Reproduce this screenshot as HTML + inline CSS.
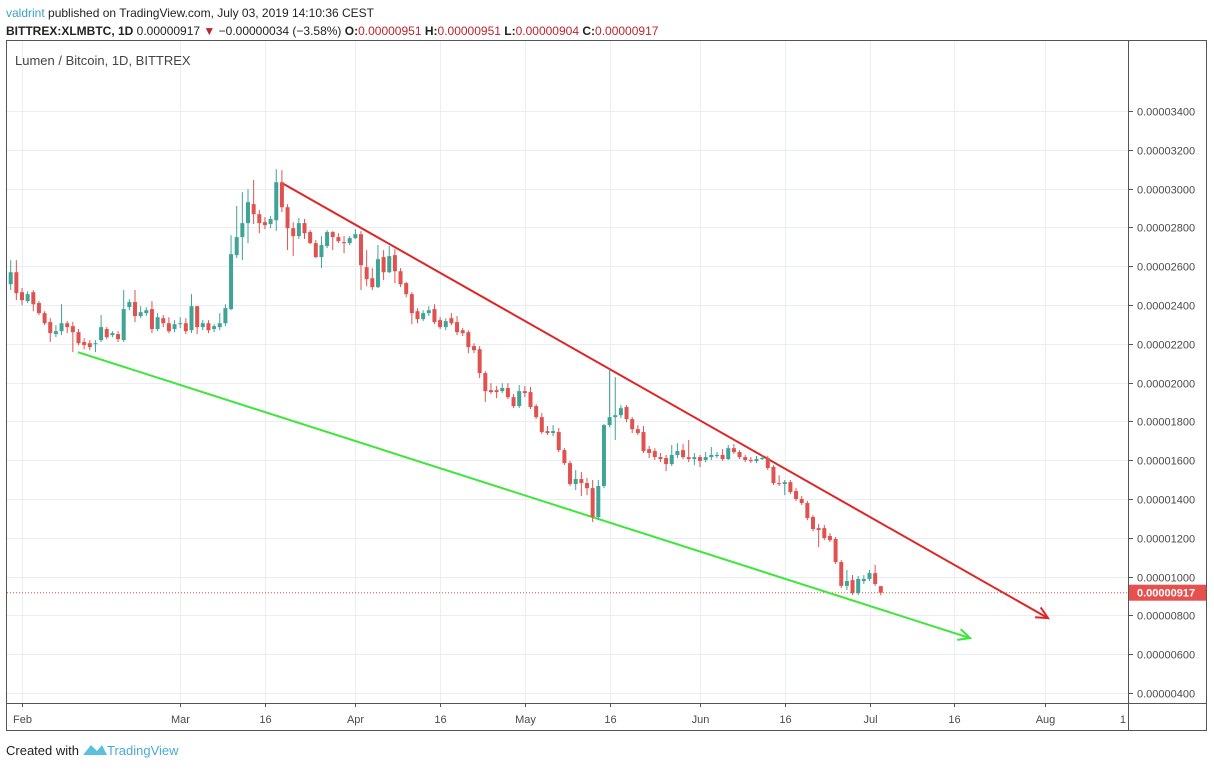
<!DOCTYPE html>
<html><head><meta charset="utf-8">
<style>
html,body{margin:0;padding:0;background:#fff;}
body{width:1214px;height:768px;overflow:hidden;font-family:"Liberation Sans",sans-serif;}
svg text{font-family:"Liberation Sans",sans-serif;}
</style></head>
<body>
<svg id="chart" width="1214" height="768" viewBox="0 0 1214 768" xmlns="http://www.w3.org/2000/svg">
  <g>
    <text x="6" y="17" font-size="12" fill="#222"><tspan fill="#3ba1c9">valdrint</tspan> published on TradingView.com, July 03, 2019 14:10:36 CEST</text>
    <text x="6" y="35" font-size="12" fill="#222"><tspan font-weight="bold">BITTREX:XLMBTC, 1D</tspan> 0.00000917 <tspan fill="#c0232b">▼</tspan> −0.00000034 (−3.58%) <tspan font-weight="bold">O:</tspan><tspan fill="#c0232b">0.00000951</tspan> <tspan font-weight="bold">H:</tspan><tspan fill="#c0232b">0.00000951</tspan> <tspan font-weight="bold">L:</tspan><tspan fill="#c0232b">0.00000904</tspan> <tspan font-weight="bold">C:</tspan><tspan fill="#c0232b">0.00000917</tspan></text>
  </g>
  <g id="grid"></g>
  <g id="lines"></g>
  <g id="candles"></g>
  <g id="axes"></g>
  <rect x="6.5" y="40.5" width="1200" height="690" fill="none" stroke="#555" stroke-width="1"/>
  <line x1="1128.5" y1="40" x2="1128.5" y2="731" stroke="#555"/>
  <line x1="6" y1="703.5" x2="1207" y2="703.5" stroke="#555"/>
  <text x="15" y="65" font-size="13" fill="#444">Lumen / Bitcoin, 1D, BITTREX</text>
  <g>
    <text x="6" y="755" font-size="13" fill="#222">Created with</text>
    <path d="M83 755 L91 745 L97 751 L102 745 L107 755 Z" fill="#5bc0de"/>
    <text x="107" y="755" font-size="13" fill="#4aa9d4">TradingView</text>
  </g>
</svg>
<script>
// price in 1e-8 BTC units; day index from Feb 1 2019
const startDay = -2;
const opens = [2507,2569,2466,2420,2466,2410,2358,2312,2250,2265,2306,2291,2260,2209,2203,2198,2219,2276,2245,2250,2219,2389,2415,2343,2358,2379,2276,2332,2306,2276,2301,2306,2270,2394,2286,2306,2276,2286,2306,2379,2657,2750,2822,2920,2868,2827,2817,2837,3033,2904,2796,2755,
2822,2776,2719,2647,2704,2776,2750,2724,2719,2745,2765,2595,2538,2492,2647,2569,2657,2574,2513,2456,2368,2327,2358,2379,2322,2286,2332,2312,2270,2260,2188,2172,2049,1961,1961,1956,1972,1925,1879,1956,1951,1879,1822,1750,1740,1745,1652,1585,1477,1503,1482,1456,1307,1467,1781,1822,1832,1874,1812,1760,1745,1657,1647,1616,1611,1580,1627,1652,1616,1606,1616,1601,1616,1622,1627,1606,1662,1642,1616,1601,1596,1606,1611,1565,1482,1477,1487,1441,1400,1379,1307,1250,1250,1209,1194,1075,952,982,915,977,988,1018,951];
const closes = [2569,2461,2425,2456,2404,2358,2306,2255,2265,2306,2286,2260,2203,2193,2183,2203,2286,2234,2255,2224,2379,2415,2343,2363,2373,2276,2337,2306,2265,2301,2306,2265,2394,2286,2306,2270,2291,2306,2384,2662,2750,2822,2930,2868,2822,2812,2843,3033,2904,2796,2755,2822,
2770,2719,2647,2709,2776,2750,2729,2719,2745,2765,2605,2533,2492,2636,2569,2652,2574,2507,2456,2358,2327,2358,2373,2312,2286,2317,2306,2260,2255,2183,2167,2049,1956,1951,1951,1972,1925,1879,1956,1946,1874,1822,1745,1740,1750,1652,1585,1477,1503,1482,1456,1307,1467,1781,1822,1832,1868,1812,1760,1740,1647,1637,1616,1606,1580,1627,1647,1616,1606,1616,1596,1616,1627,1627,1606,1662,1642,1616,1601,1596,1606,1611,1560,1482,1477,1487,1436,1400,1379,1302,1245,1240,1199,1188,1075,952,977,915,988,988,1018,962,917];
const highs = [2631,2631,2487,2471,2477,2420,2368,2332,2296,2404,2317,2312,2276,2229,2219,2219,2348,2286,2265,2265,2477,2430,2477,2394,2389,2420,2358,2348,2337,2322,2337,2332,2456,2394,2322,2322,2301,2358,2404,2760,2910,2982,2997,3044,2889,2853,2858,3100,3095,2920,2827,2848,
2843,2786,2735,2755,2786,2781,2770,2755,2755,2791,2781,2683,2590,2709,2683,2704,2688,2590,2518,2466,2384,2373,2394,2404,2337,2332,2358,2343,2281,2270,2203,2188,2059,1997,1982,1997,1997,1941,1987,1982,1977,1889,1843,1776,1781,1766,1662,1596,1549,1539,1508,1498,1498,1786,2069,2028,1884,1884,1822,1781,1776,1673,1662,1637,1627,1678,1688,1683,1704,1637,1627,1642,1668,1642,1657,1678,1683,1652,1627,1616,1622,1627,1622,1575,1523,1498,1498,1456,1415,1390,1317,1271,1266,1224,1204,1086,1034,1008,1003,1008,1034,1060,951];
const lows = [2477,2425,2399,2410,2368,2348,2296,2209,2234,2245,2255,2157,2193,2172,2167,2157,2209,2224,2234,2209,2209,2373,2312,2332,2343,2255,2265,2286,2255,2260,2281,2250,2255,2250,2270,2255,2260,2270,2291,2373,2642,2631,2719,2817,2770,2791,2796,2781,2879,2683,2652,2740,
2740,2714,2642,2590,2693,2683,2719,2667,2709,2740,2477,2497,2477,2487,2528,2564,2513,2492,2440,2301,2306,2317,2343,2301,2276,2270,2296,2245,2240,2152,2152,2023,1900,1941,1920,1946,1915,1869,1869,1925,1864,1812,1735,1730,1724,1642,1575,1467,1446,1415,1420,1281,1291,1456,1770,1704,1817,1796,1740,1730,1637,1611,1601,1590,1544,1570,1611,1606,1590,1575,1565,1590,1601,1611,1596,1601,1632,1606,1590,1585,1585,1601,1549,1472,1467,1420,1425,1390,1369,1291,1235,1152,1188,1178,1065,941,931,905,905,962,977,952,904];
const lastPrice = 917;
const priceTicks = [400,600,800,1000,1200,1400,1600,1800,2000,2200,2400,2600,2800,3000,3200,3400];
const dateTickDays = [0,28,43,59,74,89,104,120,135,150,165,181,196];
const dateTickLabels = ["Feb","Mar","16","Apr","16","May","16","Jun","16","Jul","16","Aug","1"];
const resistance = {d1:46, v1:3029, d2:181.6, v2:786};
const support = {d1:9.9, v1:2157, d2:167.8, v2:683};

const NS="http://www.w3.org/2000/svg";
const X0=22, PXD=5.65;
function xScale(d){return X0+d*PXD;}
function yScale(v){return 693-(v-400)*0.194;}
function mk(tag,attrs,parent){const e=document.createElementNS(NS,tag);for(const k in attrs)e.setAttribute(k,attrs[k]);parent.appendChild(e);return e;}
const grid=document.getElementById('grid'), axes=document.getElementById('axes'), cg=document.getElementById('candles'), lg=document.getElementById('lines');

priceTicks.forEach(v=>{
  const y=Math.round(yScale(v))+0.5;
  const gl=mk('line',{x1:7,x2:1128,y1:y,y2:y,stroke:'#e9eef4','stroke-width':1},grid);
  
  
  const tk=mk('line',{x1:1128,x2:1133,y1:y,y2:y,stroke:'#555'},axes);
  
  
  const t=mk('text',{x:1137,y:y+4,'font-size':11,fill:'#4a4a4a'},axes);
  t.textContent=(v/1e8).toFixed(8);
  
  
});
dateTickDays.forEach((d,i)=>{
  const x=Math.round(xScale(d))+0.5;
  if(x<1128){
    const gl=mk('line',{x1:x,x2:x,y1:41,y2:703,stroke:'#e9eef4'},grid);
    
    
    const tk=mk('line',{x1:x,x2:x,y1:703,y2:707,stroke:'#555'},axes);
    
    
  }
  const t=mk('text',{x:x,y:723,'font-size':11,fill:'#4a4a4a','text-anchor':'middle'},axes);
  if(x>1120){t.setAttribute('text-anchor','end');t.setAttribute('x',1126);}
  t.textContent=dateTickLabels[i];
  
  
});

const ly=yScale(lastPrice);
const pl=mk('line',{x1:7,x2:1128,y1:ly,y2:ly,stroke:'#e0524f','stroke-width':1,'stroke-dasharray':'1,2'},grid);


const pr=mk('rect',{x:1129,y:ly-8,width:78,height:16,fill:'#e4514f'},axes);


const pt=mk('text',{x:1137,y:ly+4,'font-size':11,fill:'#fff','font-weight':'bold'},axes);
pt.textContent=(lastPrice/1e8).toFixed(8);



opens.forEach((o,i)=>{
  const c=closes[i], d=startDay+i, x=xScale(d);
  const up=c>=o, col=up?'#3fa396':'#e0524f';
  const w=mk('line',{x1:x,x2:x,y1:yScale(highs[i]),y2:yScale(lows[i]),stroke:col,'stroke-width':1},cg);
  
  
  const yt=yScale(Math.max(o,c)), yb=yScale(Math.min(o,c));
  const b=mk('rect',{x:x-2,y:yt,width:4,height:Math.max(1,yb-yt),fill:col},cg);
  
  
});

function trend(t,col,name){
  const x1=xScale(t.d1),y1=yScale(t.v1),x2=xScale(t.d2),y2=yScale(t.v2);
  const l=mk('line',{x1:x1,y1:y1,x2:x2,y2:y2,stroke:col,'stroke-width':2},lg);
  
  
  const a=Math.atan2(y2-y1,x2-x1), L=13, s=0.45;
  const p=`M${x2-L*Math.cos(a-s)} ${y2-L*Math.sin(a-s)} L${x2} ${y2} L${x2-L*Math.cos(a+s)} ${y2-L*Math.sin(a+s)}`;
  const h=mk('path',{d:p,fill:'none',stroke:col,'stroke-width':2},lg);
  
  
}
trend(resistance,'#e02525','resistance-line');
trend(support,'#3ee63a','support-line');
</script>
</body></html>
